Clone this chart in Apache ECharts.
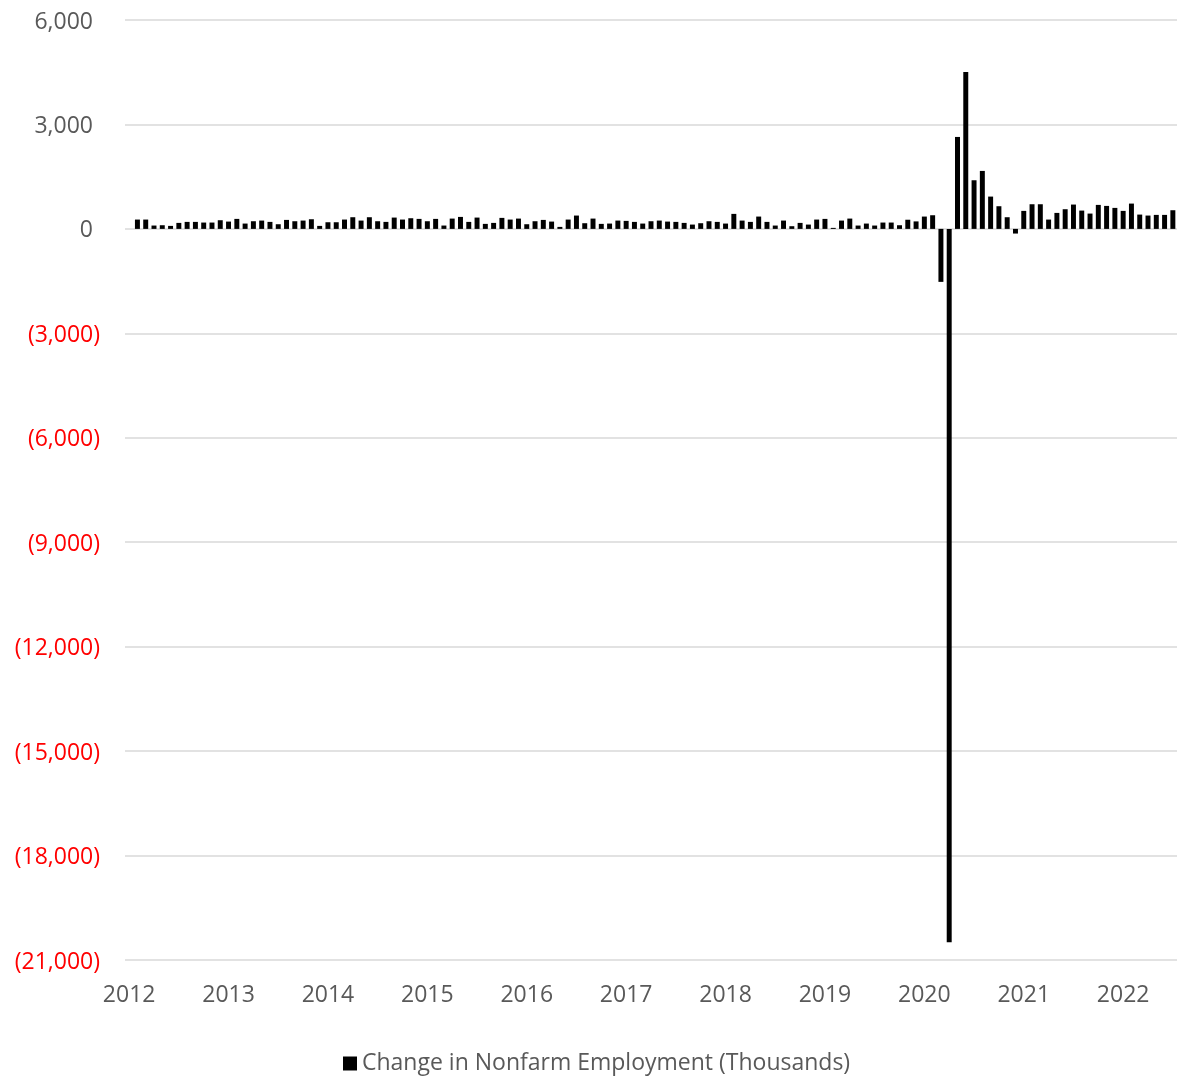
<!DOCTYPE html>
<html>
<head>
<meta charset="utf-8">
<script src="https://cdn.jsdelivr.net/npm/echarts@6/dist/echarts.min.js"></script>
<style>
  html, body { margin: 0; padding: 0; background: #fff; }
  #chart { width: 1177px; height: 1077px; }
</style>
</head>
<body>
<div id="chart"></div>
<script>
// one category per month, Jan 2012 .. Jul 2022
const startYear = 2012;
const monthCount = 127;
const yearLabels = ["2012", "2013", "2014", "2015", "2016", "2017", "2018", "2019", "2020", "2021", "2022"];

// monthly change in nonfarm employment, thousands (Jan 2012 has no bar)
const payrollChange = [
  null,
  268, 268, 96, 105, 86, 172, 201, 201, 182, 182, 249,
  210, 287, 153, 220, 239, 201, 134, 258, 220, 239, 277, 86,
  191, 191, 268, 335, 239, 335, 220, 201, 325, 268, 306, 287,
  220, 287, 96, 296, 344, 201, 325, 144, 172, 316, 268, 296,
  134, 220, 258, 210, 57, 268, 383, 163, 296, 144, 153, 239,
  230, 201, 153, 220, 239, 210, 201, 172, 124, 163, 220, 201,
  153, 431, 239, 201, 354, 201, 96, 239, 77, 172, 124, 268,
  287, 29, 239, 296, 96, 153, 96, 182, 182, 105, 263, 215,
  354, 392, -1522, -20493, 2641, 4508, 1397, 1665, 928, 651, 335, -134,
  517, 708, 708, 268, 459, 565, 699, 526, 440, 689, 660, 603,
  517, 727, 411, 383, 402, 402, 536
];

const months = [];
for (let i = 0; i < monthCount; i++) {
  const y = startYear + Math.floor(i / 12);
  const m = (i % 12) + 1;
  months.push(y + "-" + (m < 10 ? "0" + m : m));
}

const fmt = (v) => Math.abs(v).toLocaleString("en-US");

const chart = echarts.init(document.getElementById("chart"));

const option = {
  animation: false,
  textStyle: { fontFamily: "Open Sans" },
  grid: { left: 125, right: 0, top: 20, bottom: 117 },
  legend: {
    data: ["Change in Nonfarm Employment (Thousands)"],
    left: 338,
    top: 1047,
    icon: "rect",
    itemWidth: 14,
    itemHeight: 14,
    itemGap: 7,
    textStyle: { color: "#595959", fontSize: 23, fontFamily: "Open Sans" },
  },
  xAxis: {
    type: "category",
    data: months,
    axisLine: { show: false },
    axisTick: { show: false },
    axisLabel: {
      interval: 0,
      margin: 24,
      color: "#595959",
      fontSize: 23,
      formatter: (val, idx) => (idx % 12 === 0 ? yearLabels[idx / 12] : ""),
    },
  },
  yAxis: {
    type: "value",
    min: -21000,
    max: 6000,
    interval: 3000,
    axisLine: { show: false },
    axisTick: { show: false },
    splitLine: { lineStyle: { color: "#d9d9d9", width: 1.5 } },
    axisLabel: {
      margin: 25,
      fontSize: 23,
      formatter: (v) => (v < 0 ? "{n|(" + fmt(v) + ")}" : "{p|" + fmt(v) + "}"),
      rich: {
        p: { color: "#595959", fontSize: 23, fontFamily: "Open Sans", padding: [4, 7, 0, 0] },
        n: { color: "#ff0000", fontSize: 23, fontFamily: "Open Sans", padding: [4, 0, 0, 0] },
      },
    },
  },
  series: [
    {
      name: "Change in Nonfarm Employment (Thousands)",
      type: "bar",
      barWidth: "60%",
      itemStyle: { color: "#000000" },
      data: payrollChange,
    },
  ],
};

chart.setOption(option);
</script>
</body>
</html>
